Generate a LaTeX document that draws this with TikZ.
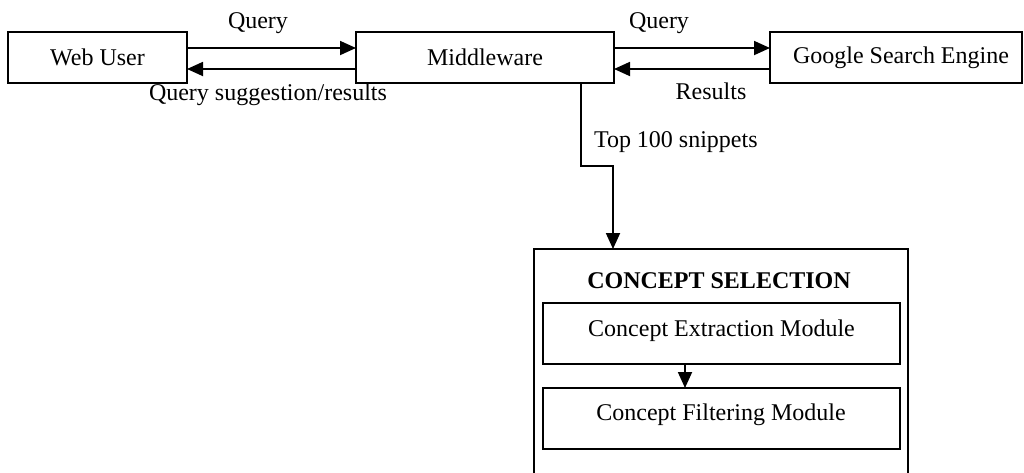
\documentclass[tikz,border=0pt]{standalone}
\usepackage{fontspec}
\setmainfont{Liberation Serif}
\usetikzlibrary{arrows.meta}
\begin{document}
\begin{tikzpicture}[x=0.5pt,y=-0.5pt,
  line width=0.9pt,
  every node/.style={font=\fontsize{12}{14}\selectfont, outer sep=0pt},
  box/.style={draw, minimum height=25.5pt, inner sep=0pt},
  modbox/.style={draw, minimum width=178.5pt, minimum height=30.5pt, inner sep=0pt},
  lbl/.style={anchor=base, inner sep=0pt},
  arr/.style={-{Triangle[length=8pt,width=7pt]}}]
\useasboundingbox (0,0) rectangle (1024,472);

% top row
\node[box, minimum width=89.5pt] (wu) at (97.5,57.5) {Web User};
\node[box, minimum width=129pt] (mw) at (485,57.5) {Middleware};
\node[box, minimum width=126pt] (gs) at (896,57.5) {\hspace{5pt}Google Search Engine};

% concept selection block
\node[draw, minimum width=187pt, minimum height=115.5pt, inner sep=0pt] (cs) at (721,364.5) {};
\node[lbl, font=\fontsize{12}{14}\selectfont\bfseries] (cstitle) at (719,288) {CONCEPT SELECTION};
\node[modbox] (ext) at (721.5,333.5) {};
\node[lbl] (extlbl) at (721.5,336) {Concept Extraction Module};
\node[modbox] (flt) at (721.5,418.5) {};
\node[lbl] (fltlbl) at (721,420) {Concept Filtering Module};

% connectors
\draw[arr] (wu.east |- 0,48) -- (mw.west |- 0,48);
\draw[arr] (mw.west |- 0,69) -- (wu.east |- 0,69);
\draw[arr] (mw.east |- 0,48) -- (gs.west |- 0,48);
\draw[arr] (gs.west |- 0,69) -- (mw.east |- 0,69);
\draw[arr] (mw.south -| 581,0) -- (581,166) -- (613,166) -- (cs.north -| 613,0);
\draw[arr] (ext.south -| 685,0) -- (flt.north -| 685,0);

% connector labels
\node[lbl] (q1) at (258,28) {Query};
\node[lbl] (qs) at (268,100) {Query suggestion/results};
\node[lbl] (q2) at (659,28) {Query};
\node[lbl] (res) at (711,99) {Results};
\node[anchor=base west, inner sep=0pt] (top) at (594,147) {Top 100 snippets};
\end{tikzpicture}
\end{document}
